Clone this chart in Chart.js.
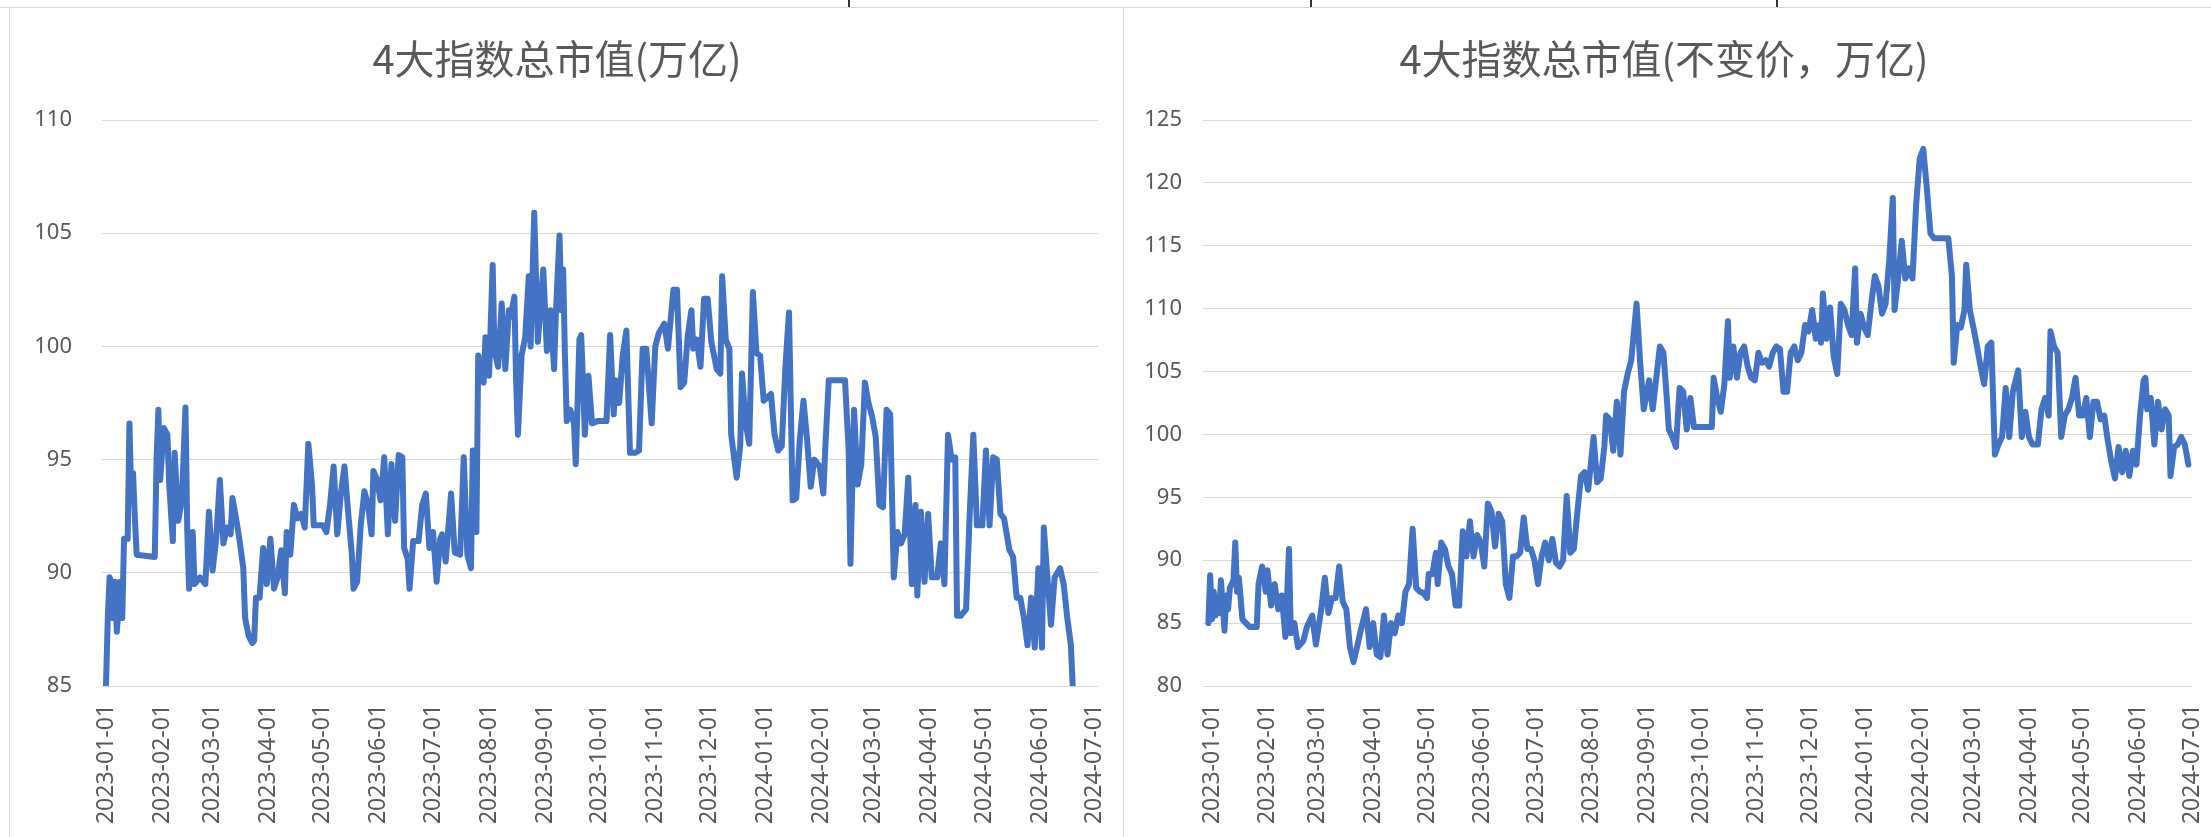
<!DOCTYPE html>
<html>
<head>
<meta charset="utf-8">
<script src="https://cdn.jsdelivr.net/npm/chart.js@4.4.1/dist/chart.umd.min.js"></script>
<style>
html,body{margin:0;padding:0;background:#fff;width:2211px;height:837px;overflow:hidden;}
.abs{position:absolute;}
</style>
</head>
<body>
<div class="abs" style="left:0;top:7px;width:2211px;height:1px;background:#d6d6d6"></div>
<div class="abs" style="left:848px;top:0;width:2px;height:7px;background:#333"></div>
<div class="abs" style="left:1310px;top:0;width:2px;height:7px;background:#333"></div>
<div class="abs" style="left:1776px;top:0;width:2px;height:7px;background:#333"></div>
<div class="abs" style="left:9px;top:7px;width:1px;height:830px;background:#d6d6d6"></div>
<div class="abs" style="left:1123px;top:7px;width:1px;height:830px;background:#d6d6d6"></div>
<canvas id="c1" class="abs" style="left:16px;top:8px;width:1094px;height:829px" width="1094" height="829"></canvas>
<canvas id="c2" class="abs" style="left:1136px;top:8px;width:1075px;height:829px" width="1075" height="829"></canvas>
<script>
// ---- tick labels (monthly date axis) ----
const monthLabels = ['2023-01-01','2023-02-01','2023-03-01','2023-04-01','2023-05-01','2023-06-01',
  '2023-07-01','2023-08-01','2023-09-01','2023-10-01','2023-11-01','2023-12-01','2024-01-01',
  '2024-02-01','2024-03-01','2024-04-01','2024-05-01','2024-06-01','2024-07-01'];
const leftTitle = '4大指数总市值(万亿)';
const rightTitle = '4大指数总市值(不变价，万亿)';
const leftYTicks = [85, 90, 95, 100, 105, 110];
const rightYTicks = [80, 85, 90, 95, 100, 105, 110, 115, 120, 125];

// ---- left series: days since 2023-01-01 / value (万亿) ----
const leftDays = [
  0,1,2,3,4,5,6,8,9,10,12,13,14,15,16,17,27,28,29,30,
  32,34,35,37,38,40,42,44,45,46,48,49,52,55,57,59,61,63,65,67,
  69,70,72,74,76,77,79,81,82,83,85,87,89,91,93,95,97,99,100,102,
  104,106,108,110,112,114,115,117,120,122,124,126,128,130,132,134,136,137,139,141,
  143,145,147,148,150,152,154,156,158,160,162,164,165,167,168,170,173,175,177,179,
  181,183,185,186,188,191,193,196,198,200,202,203,205,206,209,210,212,214,215,217,
  219,221,223,224,226,227,228,230,232,234,235,237,239,242,244,246,248,249,251,252,
  253,254,255,257,259,260,262,263,264,265,267,269,272,277,279,281,282,284,286,288,
  290,293,295,297,299,302,304,306,309,311,314,316,318,320,322,324,325,327,329,331,
  333,335,338,340,341,343,345,346,349,351,352,354,356,358,360,362,364,368,370,372,
  374,376,378,380,382,384,386,388,390,392,395,397,398,400,409,411,412,414,416,418,
  420,422,424,426,428,430,432,434,436,438,440,442,444,446,448,449,451,453,455,457,
  460,462,464,466,468,470,471,473,476,478,480,482,485,487,489,491,493,495,497,500,
  502,504,506,508,510,512,514,516,518,519,521,523,525,528,530,532,534,535
];
const leftValues = [
  85.0,88.0,89.8,89.6,88.0,89.6,87.4,89.6,88.0,91.5,91.5,96.6,93.2,94.4,92.4,90.8,90.7,95.0,97.2,94.1,
  96.4,96.1,93.9,91.4,95.3,92.3,93.2,97.3,91.8,89.3,91.8,89.5,89.8,89.5,92.7,90.1,91.5,94.1,91.3,92.0,
  91.7,93.3,92.4,91.4,90.2,88.0,87.2,86.9,87.0,88.9,88.9,91.1,89.5,91.5,89.3,89.8,91.0,89.1,91.8,90.8,
  93.0,92.4,92.6,92.0,95.7,93.9,92.1,92.1,92.1,91.8,93.0,94.7,91.7,93.5,94.7,92.7,90.9,89.3,89.6,92.1,
  93.6,93.0,91.7,94.5,94.1,93.2,95.1,91.7,94.8,92.3,95.2,95.1,91.1,90.6,89.3,91.4,91.4,93.0,93.5,91.1,
  91.8,89.6,91.5,91.7,90.5,93.5,90.9,90.8,95.1,90.8,90.2,95.4,91.8,99.6,98.4,100.4,98.7,103.6,99.8,99.1,
  101.9,99.0,101.6,101.3,102.2,98.4,96.1,99.6,100.4,103.1,100.0,105.9,100.2,103.4,99.8,101.6,99.0,101.5,104.9,101.6,
  103.4,99.6,96.7,97.2,96.6,94.8,100.3,100.5,98.4,96.1,98.7,96.6,96.7,96.7,100.5,97.0,98.5,97.5,99.6,100.7,
  95.3,95.3,95.4,99.9,99.9,96.6,100.0,100.6,101.0,99.9,102.5,102.5,98.2,98.4,100.5,101.6,99.9,100.3,99.1,102.1,
  102.1,100.2,99.0,98.8,103.1,100.3,99.9,96.1,94.2,95.6,98.8,96.6,95.7,102.4,99.7,99.6,97.6,97.9,96.1,95.4,
  95.6,99.1,101.5,93.2,93.3,95.9,97.6,95.9,93.8,95.0,94.7,93.5,95.4,98.5,98.5,95.4,90.4,97.2,93.9,94.8,
  98.4,97.5,96.9,96.0,93.0,92.9,97.2,97.0,89.8,91.8,91.3,91.7,94.2,89.5,93.0,89.0,92.7,89.6,92.6,89.8,
  89.8,91.3,89.5,96.1,95.0,95.1,88.1,88.1,88.4,92.6,96.1,92.1,92.1,95.4,92.1,95.1,95.0,92.6,92.4,91.0,
  90.7,88.9,88.9,88.0,86.8,88.9,86.7,90.2,86.7,92.0,89.8,87.7,89.8,90.2,89.5,88.0,86.8,85.0
];

// ---- right series (不变价): days since 2023-01-01 / value (万亿) ----
const rightDays = [
  -2,-1,0,1,2,3,4,5,7,8,9,10,12,13,14,15,17,21,25,26,
  28,30,31,33,35,37,39,41,43,44,46,48,51,53,56,58,61,63,65,67,
  69,71,73,75,77,79,81,83,86,88,90,92,94,96,98,100,102,104,106,108,
  110,112,114,116,118,120,121,123,125,126,128,130,132,134,136,138,140,142,144,146,
  148,150,152,154,156,158,160,162,164,166,168,170,172,174,176,178,180,182,184,186,
  188,190,192,194,196,198,200,202,204,206,208,210,212,213,215,217,219,220,222,224,
  226,228,230,232,234,237,239,241,244,246,248,250,252,254,255,257,259,261,263,265,
  267,269,279,280,282,284,286,288,289,291,293,295,297,299,301,303,305,307,309,311,
  313,315,317,319,321,323,325,327,329,331,333,335,337,339,340,341,343,345,347,349,
  351,353,355,357,359,360,362,364,366,368,370,372,374,376,378,380,381,383,385,387,
  389,391,393,395,397,399,401,403,411,413,414,416,418,420,421,423,425,427,429,431,
  433,435,437,439,441,443,445,447,450,452,454,456,458,461,463,465,467,468,470,472,
  474,476,478,480,482,484,486,488,490,492,494,496,498,500,502,504,506,508,510,512,
  514,516,518,520,521,522,524,526,528,530,532,534,535,537,539,541,543,545
];
const rightValues = [
  85.0,88.8,85.3,87.5,85.6,87.0,85.8,88.4,84.4,87.2,86.1,87.8,88.4,91.4,87.5,88.6,85.3,84.7,84.7,88.1,
  89.5,87.5,89.2,86.4,88.1,86.1,87.2,83.9,90.9,84.2,85.0,83.1,83.6,84.7,85.6,83.3,86.1,88.6,85.8,87.0,
  87.0,89.5,86.7,86.1,83.1,81.9,83.1,84.4,86.1,83.1,85.0,82.5,82.3,85.6,82.5,85.0,84.2,85.6,85.0,87.5,
  88.1,92.5,87.8,87.5,87.4,87.0,88.9,88.9,90.6,88.1,91.4,90.9,89.5,88.9,86.4,86.4,92.3,90.3,93.1,90.3,
  92.0,91.4,89.5,94.5,93.9,91.1,93.7,93.1,88.1,87.0,90.3,90.3,90.6,93.4,90.9,90.9,90.0,88.1,90.3,91.4,
  90.0,91.7,89.8,89.5,90.0,95.1,90.6,90.9,93.9,96.7,97.0,95.6,98.4,99.8,96.2,96.5,99.0,101.5,101.2,98.7,
  102.6,98.4,103.4,104.8,105.9,110.4,105.7,102.0,104.3,102.0,104.5,107.0,106.5,102.6,100.4,99.8,99.0,103.7,103.4,100.4,
  102.9,100.6,100.6,104.5,102.9,101.8,104.0,109.0,104.5,107.0,104.5,106.5,107.0,105.4,104.5,104.3,106.5,105.7,105.9,105.4,
  106.5,107.0,106.8,103.4,103.4,106.5,107.0,105.9,106.5,108.7,108.2,109.9,107.6,108.7,107.3,111.2,107.6,110.1,106.2,104.8,
  110.4,109.9,108.7,107.9,113.2,107.3,109.6,108.5,107.9,110.4,112.6,111.8,109.6,110.4,113.8,118.8,109.9,112.4,115.4,112.4,
  113.2,112.4,118.2,121.9,122.7,119.6,116.0,115.6,115.6,112.6,105.7,108.7,108.5,109.9,113.5,109.9,108.5,107.0,105.4,104.0,
  107.0,107.3,98.4,99.2,99.8,103.7,99.8,103.4,105.1,99.8,101.8,99.8,99.2,99.2,102.0,102.9,101.5,108.2,107.0,106.5,
  99.8,101.5,102.0,102.9,104.5,101.5,101.5,102.9,99.8,102.6,102.6,101.2,101.5,99.5,97.8,96.5,99.0,97.0,98.7,96.7,
  98.7,97.6,101.5,104.3,104.5,102.0,102.9,99.2,102.6,100.4,102.0,101.5,96.7,99.0,99.2,99.8,99.2,97.6
];

const DAY0 = Date.UTC(2023, 0, 1);
function dayOf(s) {
  const p = s.split('-').map(Number);
  return Math.round((Date.UTC(p[0], p[1] - 1, p[2]) - DAY0) / 86400000);
}
const tickDays = monthLabels.map(dayOf);

function build(id, title, days, values, yTicks, g) {
  return new Chart(document.getElementById(id), {
    type: 'line',
    data: {
      datasets: [{
        data: days.map((d, i) => ({ x: d, y: values[i] })),
        borderColor: '#4472C4',
        borderWidth: 6,
        pointRadius: 0,
        tension: 0,
        fill: false,
        borderJoinStyle: 'round',
        borderCapStyle: 'round'
      }]
    },
    options: {
      responsive: false,
      animation: false,
      devicePixelRatio: 1,
      layout: { padding: { left: 0, right: g.padRight, top: 0, bottom: 0 } },
      plugins: {
        legend: { display: false },
        tooltip: { enabled: false },
        title: {
          display: true,
          text: title,
          color: '#595959',
          font: { family: "'Noto Sans CJK SC', 'Noto Sans', sans-serif", size: 40, weight: 'normal', lineHeight: 1.2 },
          padding: { top: 27, bottom: 37 }
        }
      },
      scales: {
        x: {
          type: 'linear',
          min: g.xMin,
          max: g.xMax,
          grid: { display: false, drawTicks: false, tickLength: 0 },
          border: { display: false },
          afterBuildTicks: s => { s.ticks = tickDays.map(v => ({ value: v })); },
          afterFit: s => { s.height = 151; s.paddingLeft = 0; s.paddingRight = 0; },
          ticks: {
            autoSkip: false,
            minRotation: 90,
            maxRotation: 90,
            padding: 18,
            color: '#595959',
            font: { family: "'Noto Sans', sans-serif", size: 23 },
            callback: (v, i) => monthLabels[i]
          }
        },
        y: {
          min: yTicks[0],
          max: yTicks[yTicks.length - 1],
          grid: { color: '#d9d9d9', lineWidth: 1, drawTicks: false, tickLength: 0 },
          border: { display: false },
          afterBuildTicks: s => { s.ticks = yTicks.map(v => ({ value: v })); },
          afterFit: s => { s.width = g.yWidth; s.paddingTop = 0; s.paddingBottom = 0; },
          ticks: {
            padding: g.yPad,
            color: '#595959',
            font: { family: "'Noto Sans', sans-serif", size: 22 }
          }
        }
      }
    }
  });
}

build('c1', leftTitle, leftDays, leftValues, leftYTicks,
  { yWidth: 86, yPad: 30, padRight: 12, xMin: -2.2, xMax: 549 });
build('c2', rightTitle, rightDays, rightValues, rightYTicks,
  { yWidth: 67, yPad: 21, padRight: 19, xMin: -5, xMax: 547 });
</script>
</body>
</html>
